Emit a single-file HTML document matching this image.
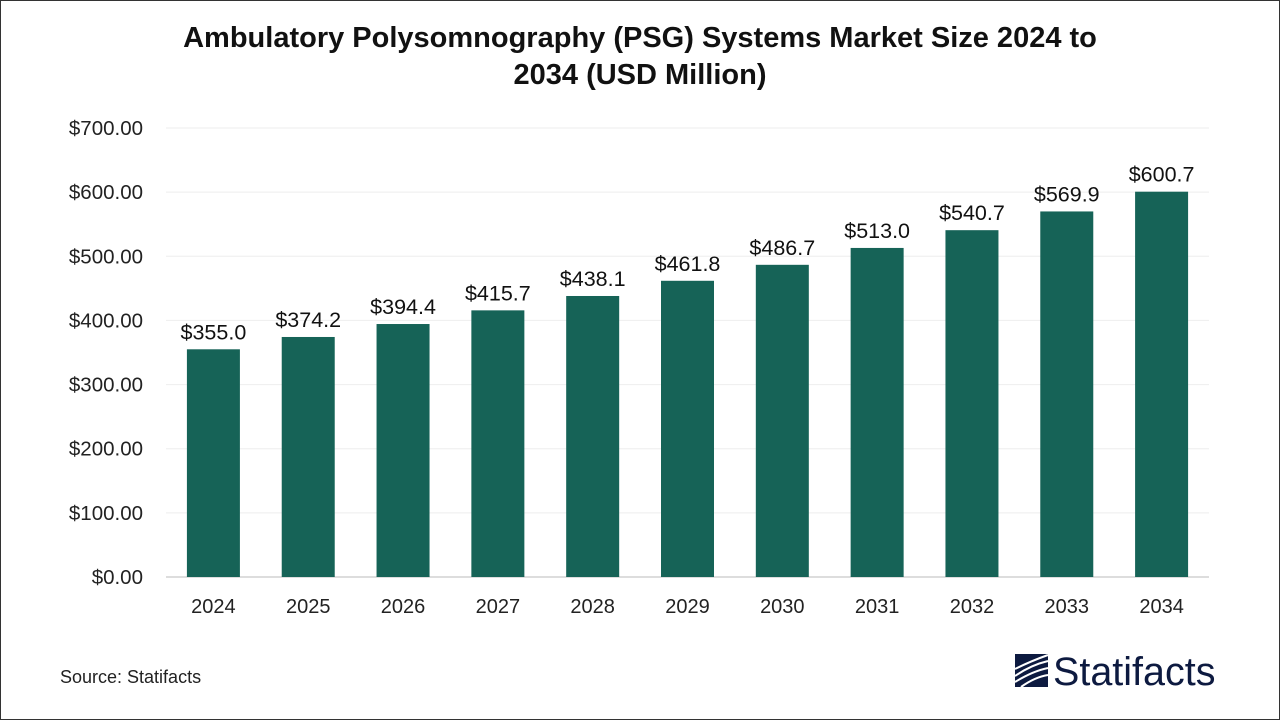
<!DOCTYPE html>
<html><head><meta charset="utf-8"><style>
body{margin:0;background:#fff;}
#c{position:relative;width:1278px;height:718px;border:1px solid #333;overflow:hidden;font-family:"Liberation Sans",sans-serif;}
</style></head><body>
<div id="c">
<svg id="s" width="1278" height="718">
<text x="639" y="46" text-anchor="middle" font-size="29" font-weight="bold" fill="#111">Ambulatory Polysomnography (PSG) Systems Market Size 2024 to</text>
<text x="639" y="83" text-anchor="middle" font-size="29" font-weight="bold" fill="#111">2034 (USD Million)</text>
<g id="grid"></g><g id="bars"></g>
<text x="59" y="682" font-size="18" fill="#222">Source: Statifacts</text>
<g>
<rect x="1014" y="653" width="33" height="33" fill="#0d1a40"/>
<path d="M1014 668 Q1030 660 1047 654 M1014 675 Q1030 664 1047 660 M1014 681 Q1032 670 1047 667 M1020 686 Q1034 676 1047 674" stroke="#fff" stroke-width="2" fill="none"/>
<text x="1052" y="684" font-size="39.5" fill="#0d1a40">Statifacts</text>
</g>
</svg>
</div>
<script>
const categories=["2024","2025","2026","2027","2028","2029","2030","2031","2032","2033","2034"];
const values=[355.0,374.2,394.4,415.7,438.1,461.8,486.7,513.0,540.7,569.9,600.7];
const ticks=[0,100,200,300,400,500,600,700];
const NS="http://www.w3.org/2000/svg";
const x0=165,x1=1208,y0=576,yTop=127,maxV=700;
const y=v=>y0-(v/maxV)*(y0-yTop);
const step=(x1-x0)/categories.length;
const xc=i=>x0+step*(i+0.5);
function mk(t,a){const e=document.createElementNS(NS,t);for(const k in a)e.setAttribute(k,a[k]);return e;}
const g=document.getElementById('grid'),b=document.getElementById('bars');
ticks.forEach(t=>{
 const l=mk('line',{x1:x0,x2:x1,y1:y(t),y2:y(t),stroke:t===0?'#bbb':'#eee','stroke-width':1});
 
 
 g.appendChild(l);
 const tx=mk('text',{x:142,y:y(t)+7,'text-anchor':'end','font-size':20.5,fill:'#222'});
 tx.textContent='$'+t.toFixed(2);
 
 
 g.appendChild(tx);
});
categories.forEach((c,i)=>{
 const r=mk('rect',{x:xc(i)-26.5,width:53,y:y(values[i]),height:y0-y(values[i]),fill:'#166357'});
 
 
 b.appendChild(r);
 const v=mk('text',{x:xc(i),y:y(values[i])-10,'text-anchor':'middle','font-size':21.5,fill:'#111'});
 v.textContent='$'+values[i].toFixed(1);
 
 
 b.appendChild(v);
 const xl=mk('text',{x:xc(i),y:612,'text-anchor':'middle','font-size':20,fill:'#222'});
 xl.textContent=c;
 
 
 b.appendChild(xl);
});
</script>
</body></html>
